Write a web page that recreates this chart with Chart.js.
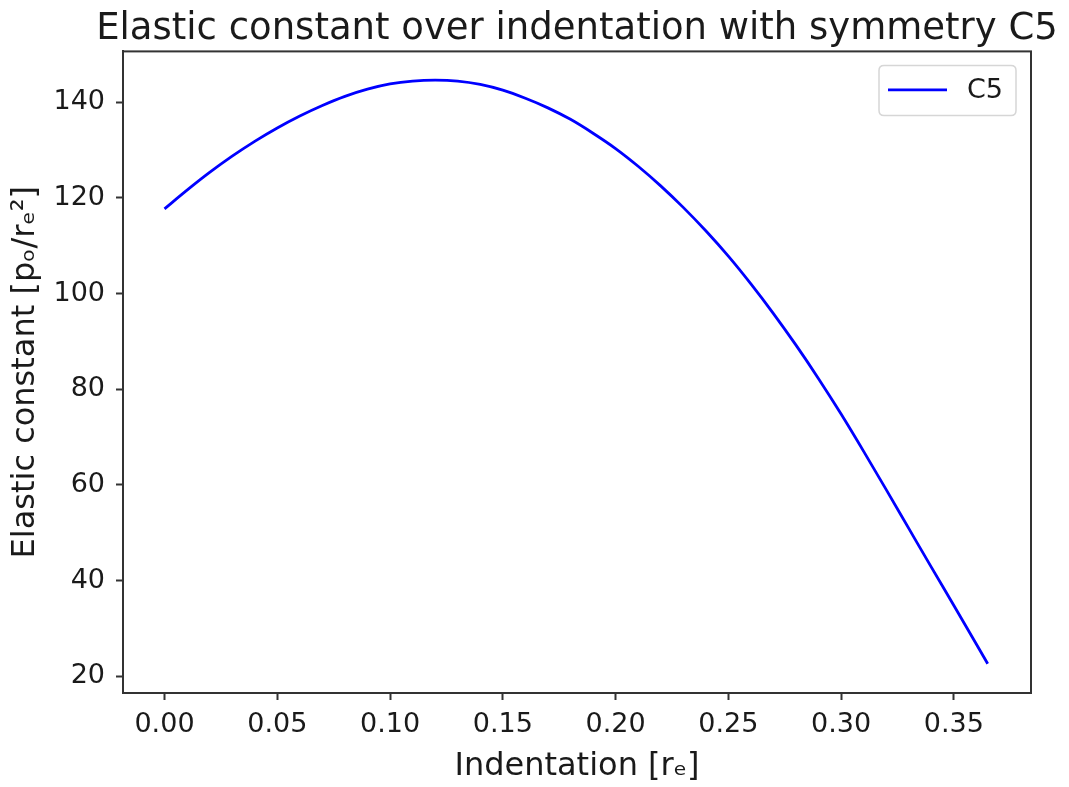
<!DOCTYPE html>
<html>
<head>
<meta charset="utf-8">
<script src="https://cdn.jsdelivr.net/npm/chart.js@4/dist/chart.umd.min.js"></script>
<style>
  html, body { margin: 0; padding: 0; background: #ffffff; }
  #wrap { width: 1069px; height: 787px; }
</style>
</head>
<body>
<div id="wrap"><canvas id="c" width="1069" height="787"></canvas></div>
<script>
// ---- data ----
const indentation = [0.00, 0.01, 0.02, 0.03, 0.04, 0.05, 0.06, 0.07, 0.08, 0.09,
                     0.10, 0.11, 0.12, 0.13, 0.14, 0.15, 0.16, 0.17, 0.18, 0.19,
                     0.20, 0.21, 0.22, 0.23, 0.24, 0.25, 0.26, 0.27, 0.28, 0.29,
                     0.30, 0.31, 0.32, 0.33, 0.34, 0.35, 0.36, 0.365];
const c5Values = [117.7, 121.6, 125.3, 128.7, 131.8, 134.6, 137.1, 139.3, 141.2, 142.7,
                  143.8, 144.4, 144.6, 144.4, 143.7, 142.5, 140.8, 138.8, 136.4, 133.5,
                  130.3, 126.6, 122.5, 118.0, 113.1, 107.8, 102.0, 95.8, 89.2, 82.2,
                  74.8, 67.0, 59.0, 50.9, 42.8, 34.8, 26.7, 22.6];
const xTickValues = [0.00, 0.05, 0.10, 0.15, 0.20, 0.25, 0.30, 0.35];
const yTickValues = [20, 40, 60, 80, 100, 120, 140];
const seriesLabel = 'C5';
const chartTitle = 'Elastic constant over indentation with symmetry C5';
const xAxisTitle = 'Indentation [r\u2091]';
const yAxisTitle = 'Elastic constant [p\u2092/r\u2091\u00b2]';

// axis ranges (data range plus 5% margin, as in the reference)
const xMin = -0.0184, xMax = 0.3842;
const yMin = 16.5, yMax = 150.6;

const FONT = "'DejaVu Sans', 'Liberation Sans', sans-serif";
const INK = '#1a1a1a';
const SPINE = '#333333';

const points = indentation.map((x, i) => ({ x: x, y: c5Values[i] }));

const framePlugin = {
  id: 'frame',
  afterLayout(chart) {
    // centre the title over the plotting area, like the reference
    if (chart.titleBlock) {
      const a = chart.chartArea;
      const cx = (a.left + a.right) / 2;
      chart.titleBlock.left = cx - 520;
      chart.titleBlock.right = cx + 520;
      chart.titleBlock.width = 1040;
    }
  },
  afterDatasetsDraw(chart) {
    const { ctx, chartArea: a } = chart;
    ctx.save();
    ctx.strokeStyle = SPINE;
    ctx.lineWidth = 2;
    ctx.strokeRect(a.left, a.top, a.right - a.left, a.bottom - a.top);
    ctx.restore();
  },
  afterDraw(chart) {
    // legend box in upper-right corner of the plot area
    const { ctx, chartArea: a } = chart;
    const ds = chart.data.datasets[0];
    const bw = 137, bh = 50;
    const bx = a.right - 15 - bw, by = a.top + 14;
    ctx.save();
    ctx.beginPath();
    const r = 5;
    ctx.moveTo(bx + r, by);
    ctx.lineTo(bx + bw - r, by);
    ctx.quadraticCurveTo(bx + bw, by, bx + bw, by + r);
    ctx.lineTo(bx + bw, by + bh - r);
    ctx.quadraticCurveTo(bx + bw, by + bh, bx + bw - r, by + bh);
    ctx.lineTo(bx + r, by + bh);
    ctx.quadraticCurveTo(bx, by + bh, bx, by + bh - r);
    ctx.lineTo(bx, by + r);
    ctx.quadraticCurveTo(bx, by, bx + r, by);
    ctx.closePath();
    ctx.fillStyle = 'rgba(255,255,255,0.8)';
    ctx.fill();
    ctx.strokeStyle = '#d6d6d6';
    ctx.lineWidth = 1.5;
    ctx.stroke();
    const ly = by + 24.5;
    ctx.beginPath();
    ctx.moveTo(bx + 9, ly);
    ctx.lineTo(bx + 68, ly);
    ctx.strokeStyle = ds.borderColor;
    ctx.lineWidth = ds.borderWidth;
    ctx.stroke();
    ctx.fillStyle = INK;
    ctx.font = '27px ' + FONT;
    ctx.textAlign = 'left';
    ctx.textBaseline = 'middle';
    ctx.fillText(ds.label, bx + 88, ly + 1);
    ctx.restore();
  }
};

new Chart(document.getElementById('c'), {
  type: 'line',
  data: {
    datasets: [{
      label: seriesLabel,
      data: points,
      borderColor: '#0000ff',
      backgroundColor: '#0000ff',
      borderWidth: 2.8,
      pointRadius: 0,
      cubicInterpolationMode: 'monotone',
      fill: false
    }]
  },
  options: {
    responsive: false,
    animation: false,
    devicePixelRatio: 1,
    layout: { padding: { left: 0, right: 38, top: 0, bottom: 0 } },
    plugins: {
      legend: { display: false },
      tooltip: { enabled: false },
      title: {
        display: true,
        text: chartTitle,
        color: INK,
        font: { family: FONT, size: 37, weight: 'normal', lineHeight: 1.2 },
        padding: { top: 7, bottom: 0 }
      }
    },
    scales: {
      x: {
        type: 'linear',
        min: xMin,
        max: xMax,
        afterBuildTicks(scale) { scale.ticks = xTickValues.map(v => ({ value: v })); },
        afterFit(scale) { scale.height = 94; },
        ticks: {
          callback: v => Number(v).toFixed(2),
          color: INK,
          font: { family: FONT, size: 27 },
          padding: 9,
          maxRotation: 0,
          autoSkip: false
        },
        grid: {
          display: true,
          drawOnChartArea: false,
          drawTicks: true,
          tickLength: 7,
          tickWidth: 2,
          tickColor: SPINE
        },
        border: { display: true, color: SPINE, width: 2 },
        title: {
          display: true,
          text: xAxisTitle,
          color: INK,
          font: { family: FONT, size: 32, lineHeight: 1.2 },
          padding: { top: 0, bottom: 1 }
        }
      },
      y: {
        type: 'linear',
        min: yMin,
        max: yMax,
        afterBuildTicks(scale) { scale.ticks = yTickValues.map(v => ({ value: v })); },
        afterFit(scale) { scale.width = 123; },
        ticks: {
          callback: v => String(v),
          color: INK,
          font: { family: FONT, size: 27 },
          padding: 11,
          autoSkip: false
        },
        grid: {
          display: true,
          drawOnChartArea: false,
          drawTicks: true,
          tickLength: 7,
          tickWidth: 2,
          tickColor: SPINE
        },
        border: { display: true, color: SPINE, width: 2 },
        title: {
          display: true,
          text: yAxisTitle,
          color: INK,
          font: { family: FONT, size: 32, lineHeight: 1.2 },
          padding: { top: 6, bottom: 0 }
        }
      }
    }
  },
  plugins: [framePlugin]
});
</script>
</body>
</html>
